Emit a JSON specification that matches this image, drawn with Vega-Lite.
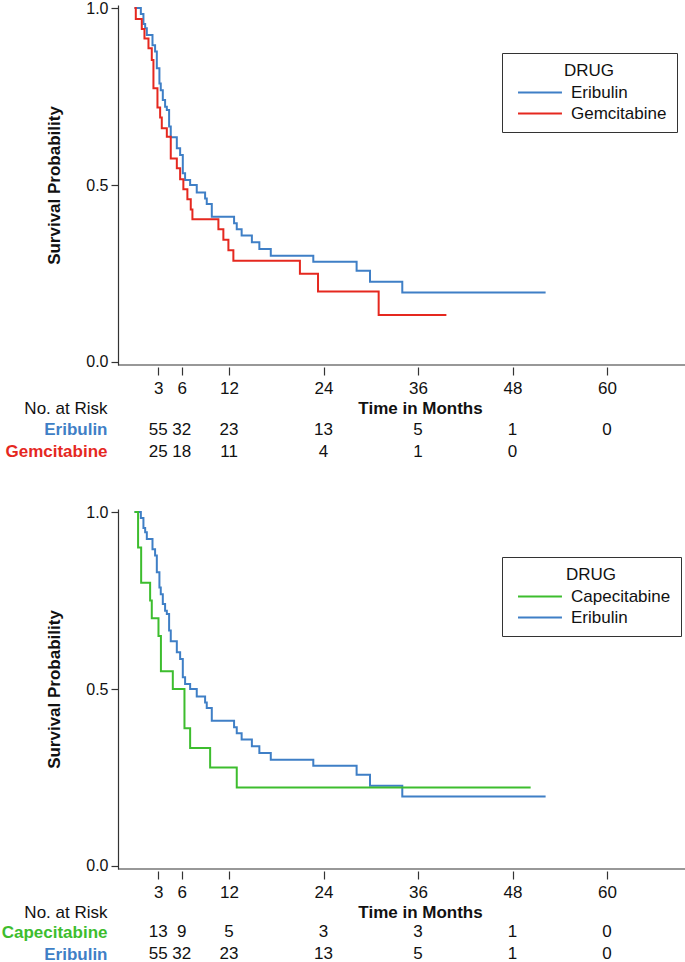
{
  "$schema": "https://vega.github.io/schema/vega-lite/v6.json",
  "padding": {"left": 1, "top": 0, "right": 0, "bottom": 0},
  "bounds": "flush",
  "spacing": 40,
  "config": {
    "font": "Liberation Sans",
    "view": {"stroke": null},
    "axis": {"grid": false, "domainColor": "#333", "tickColor": "#333", "labelColor": "#111", "titleColor": "#111", "domainWidth": 1.2, "tickWidth": 1.2},
    "legend": {"labelColor": "#111", "titleColor": "#111"}
  },
  "datasets": {
    "km": [
      {"drug": "Eribulin", "t": 0, "s": 1.0},
      {"drug": "Eribulin", "t": 0.8, "s": 0.983},
      {"drug": "Eribulin", "t": 1.13, "s": 0.955},
      {"drug": "Eribulin", "t": 1.35, "s": 0.943},
      {"drug": "Eribulin", "t": 1.56, "s": 0.924},
      {"drug": "Eribulin", "t": 2.28, "s": 0.895},
      {"drug": "Eribulin", "t": 2.61, "s": 0.877},
      {"drug": "Eribulin", "t": 2.83, "s": 0.83},
      {"drug": "Eribulin", "t": 3.16, "s": 0.787},
      {"drug": "Eribulin", "t": 3.33, "s": 0.768},
      {"drug": "Eribulin", "t": 3.59, "s": 0.74},
      {"drug": "Eribulin", "t": 3.88, "s": 0.721},
      {"drug": "Eribulin", "t": 4.1, "s": 0.712},
      {"drug": "Eribulin", "t": 4.39, "s": 0.665},
      {"drug": "Eribulin", "t": 4.6, "s": 0.635},
      {"drug": "Eribulin", "t": 5.37, "s": 0.604},
      {"drug": "Eribulin", "t": 5.79, "s": 0.585},
      {"drug": "Eribulin", "t": 6.13, "s": 0.533},
      {"drug": "Eribulin", "t": 6.42, "s": 0.514},
      {"drug": "Eribulin", "t": 7.06, "s": 0.5},
      {"drug": "Eribulin", "t": 7.9, "s": 0.479},
      {"drug": "Eribulin", "t": 8.96, "s": 0.462},
      {"drug": "Eribulin", "t": 9.17, "s": 0.446},
      {"drug": "Eribulin", "t": 9.81, "s": 0.41},
      {"drug": "Eribulin", "t": 12.64, "s": 0.392},
      {"drug": "Eribulin", "t": 12.98, "s": 0.375},
      {"drug": "Eribulin", "t": 13.6, "s": 0.357},
      {"drug": "Eribulin", "t": 14.9, "s": 0.338},
      {"drug": "Eribulin", "t": 15.85, "s": 0.319},
      {"drug": "Eribulin", "t": 17.3, "s": 0.3},
      {"drug": "Eribulin", "t": 22.7, "s": 0.283},
      {"drug": "Eribulin", "t": 28.2, "s": 0.258},
      {"drug": "Eribulin", "t": 29.9, "s": 0.227},
      {"drug": "Eribulin", "t": 34.0, "s": 0.196},
      {"drug": "Eribulin", "t": 52.2, "s": 0.196},
      {"drug": "Gemcitabine", "t": 0, "s": 1.0},
      {"drug": "Gemcitabine", "t": 0.16, "s": 0.969},
      {"drug": "Gemcitabine", "t": 0.92, "s": 0.941},
      {"drug": "Gemcitabine", "t": 1.26, "s": 0.914},
      {"drug": "Gemcitabine", "t": 1.77, "s": 0.886},
      {"drug": "Gemcitabine", "t": 2.19, "s": 0.853},
      {"drug": "Gemcitabine", "t": 2.4, "s": 0.773},
      {"drug": "Gemcitabine", "t": 2.91, "s": 0.719},
      {"drug": "Gemcitabine", "t": 3.25, "s": 0.691},
      {"drug": "Gemcitabine", "t": 3.46, "s": 0.66},
      {"drug": "Gemcitabine", "t": 4.1, "s": 0.636},
      {"drug": "Gemcitabine", "t": 4.6, "s": 0.575},
      {"drug": "Gemcitabine", "t": 5.37, "s": 0.547},
      {"drug": "Gemcitabine", "t": 5.79, "s": 0.516},
      {"drug": "Gemcitabine", "t": 6.2, "s": 0.488},
      {"drug": "Gemcitabine", "t": 6.71, "s": 0.46},
      {"drug": "Gemcitabine", "t": 7.14, "s": 0.431},
      {"drug": "Gemcitabine", "t": 7.35, "s": 0.403},
      {"drug": "Gemcitabine", "t": 10.65, "s": 0.375},
      {"drug": "Gemcitabine", "t": 11.28, "s": 0.345},
      {"drug": "Gemcitabine", "t": 11.92, "s": 0.316},
      {"drug": "Gemcitabine", "t": 12.55, "s": 0.286},
      {"drug": "Gemcitabine", "t": 21.0, "s": 0.249},
      {"drug": "Gemcitabine", "t": 23.3, "s": 0.199},
      {"drug": "Gemcitabine", "t": 31.0, "s": 0.133},
      {"drug": "Gemcitabine", "t": 39.6, "s": 0.133},
      {"drug": "Capecitabine", "t": 0, "s": 1.0},
      {"drug": "Capecitabine", "t": 0.45, "s": 0.9},
      {"drug": "Capecitabine", "t": 0.84, "s": 0.8},
      {"drug": "Capecitabine", "t": 1.98, "s": 0.75},
      {"drug": "Capecitabine", "t": 2.19, "s": 0.7},
      {"drug": "Capecitabine", "t": 3.04, "s": 0.65},
      {"drug": "Capecitabine", "t": 3.35, "s": 0.55},
      {"drug": "Capecitabine", "t": 4.86, "s": 0.5},
      {"drug": "Capecitabine", "t": 6.34, "s": 0.389},
      {"drug": "Capecitabine", "t": 7.06, "s": 0.333},
      {"drug": "Capecitabine", "t": 9.6, "s": 0.278},
      {"drug": "Capecitabine", "t": 12.98, "s": 0.222},
      {"drug": "Capecitabine", "t": 50.3, "s": 0.222}
    ],
    "risk": [
      {"drug": "Eribulin", "t": 3, "n": 55},
      {"drug": "Eribulin", "t": 6, "n": 32},
      {"drug": "Eribulin", "t": 12, "n": 23},
      {"drug": "Eribulin", "t": 24, "n": 13},
      {"drug": "Eribulin", "t": 36, "n": 5},
      {"drug": "Eribulin", "t": 48, "n": 1},
      {"drug": "Eribulin", "t": 60, "n": 0},
      {"drug": "Gemcitabine", "t": 3, "n": 25},
      {"drug": "Gemcitabine", "t": 6, "n": 18},
      {"drug": "Gemcitabine", "t": 12, "n": 11},
      {"drug": "Gemcitabine", "t": 24, "n": 4},
      {"drug": "Gemcitabine", "t": 36, "n": 1},
      {"drug": "Gemcitabine", "t": 48, "n": 0},
      {"drug": "Capecitabine", "t": 3, "n": 13},
      {"drug": "Capecitabine", "t": 6, "n": 9},
      {"drug": "Capecitabine", "t": 12, "n": 5},
      {"drug": "Capecitabine", "t": 24, "n": 3},
      {"drug": "Capecitabine", "t": 36, "n": 3},
      {"drug": "Capecitabine", "t": 48, "n": 1},
      {"drug": "Capecitabine", "t": 60, "n": 0}
    ]
  },
  "resolve": {"scale": {"x": "independent", "y": "independent", "color": "independent"}},
  "vconcat": [
    {
      "width": 567,
      "height": 360,
      "layer": [
        {
          "data": {"values": [{}]},
          "mark": {"type": "rule", "color": "#333", "strokeWidth": 1.2},
          "encoding": {"y": {"datum": -0.0085, "type": "quantitative"}}
        },
        {
          "data": {"name": "km"},
          "transform": [{"filter": {"field": "drug", "oneOf": ["Eribulin", "Gemcitabine"]}}],
          "mark": {"type": "line", "interpolate": "step-after", "strokeWidth": 2},
          "encoding": {
            "x": {"field": "t", "type": "quantitative",
              "scale": {"domain": [-2.1, 69.9], "nice": false, "zero": false},
              "axis": {"values": [3, 6, 12, 24, 36, 48, 60], "title": null, "domain": false, "offset": 2, "tickSize": 8, "labelPadding": 5, "labelFontSize": 17, "labelFlush": false, "labelOverlap": false}},
            "y": {"field": "s", "type": "quantitative",
              "scale": {"domain": [-0.0085, 1.0085], "nice": false, "zero": false},
              "axis": {"values": [0, 0.5, 1], "format": ".1f", "title": "Survival Probability", "titleFontSize": 17, "titleFontWeight": "bold", "titleX": -64, "titleY": 180, "titleBaseline": "middle", "labelFontSize": 16, "tickSize": 7, "labelPadding": 3}},
            "color": {"field": "drug", "type": "nominal",
              "scale": {"domain": ["Eribulin", "Gemcitabine"], "range": ["#3f7fc6", "#e5281f"]},
              "legend": {"orient": "none", "legendX": 384, "legendY": 48, "title": "DRUG", "titleFontWeight": "normal", "titleFontSize": 17, "titleAnchor": "middle", "titlePadding": 3, "labelFontSize": 17, "strokeColor": "#333", "fillColor": "white", "padding": 10, "symbolType": "M-0.41,0H4.76", "symbolSize": 289, "symbolStrokeWidth": 2, "labelOffset": 40, "rowPadding": 3}}
          }
        }
      ]
    },
    {
      "width": 567,
      "height": 64,
      "data": {"name": "risk"},
      "transform": [{"filter": {"field": "drug", "oneOf": ["Eribulin", "Gemcitabine"]}}],
      "mark": {"type": "text", "fontSize": 17, "color": "#111"},
      "encoding": {
        "x": {"field": "t", "type": "quantitative",
          "scale": {"domain": [-2.1, 69.9], "nice": false, "zero": false},
          "axis": {"orient": "top", "title": "Time in Months", "labels": false, "ticks": false, "domain": false, "titleX": 302, "titleY": 3, "titleBaseline": "middle", "titleFontSize": 17, "titleFontWeight": "bold"}},
        "y": {"field": "drug", "type": "nominal", "sort": ["Eribulin", "Gemcitabine"],
          "scale": {"type": "point", "padding": 0.9545, "align": 0.595},
          "axis": {"title": "No. at Risk", "titleAngle": 0, "titleAlign": "right", "titleBaseline": "middle", "titleX": -11, "titleY": 3, "titleFontWeight": "normal", "titleFontSize": 17, "labelFontSize": 17, "labelFontWeight": "bold",
            "labelColor": {"condition": {"test": "datum.value === 'Eribulin'", "value": "#3f7fc6"}, "value": "#e5281f"},
            "ticks": false, "tickSize": 0, "domain": false, "labelPadding": 11}},
        "text": {"field": "n", "type": "quantitative"}
      }
    },
    {
      "width": 567,
      "height": 360,
      "layer": [
        {
          "data": {"values": [{}]},
          "mark": {"type": "rule", "color": "#333", "strokeWidth": 1.2},
          "encoding": {"y": {"datum": -0.0085, "type": "quantitative"}}
        },
        {
          "data": {"name": "km"},
          "transform": [{"filter": {"field": "drug", "oneOf": ["Capecitabine", "Eribulin"]}}],
          "mark": {"type": "line", "interpolate": "step-after", "strokeWidth": 2},
          "encoding": {
            "x": {"field": "t", "type": "quantitative",
              "scale": {"domain": [-2.1, 69.9], "nice": false, "zero": false},
              "axis": {"values": [3, 6, 12, 24, 36, 48, 60], "title": null, "domain": false, "offset": 2, "tickSize": 8, "labelPadding": 5, "labelFontSize": 17, "labelFlush": false, "labelOverlap": false}},
            "y": {"field": "s", "type": "quantitative",
              "scale": {"domain": [-0.0085, 1.0085], "nice": false, "zero": false},
              "axis": {"values": [0, 0.5, 1], "format": ".1f", "title": "Survival Probability", "titleFontSize": 17, "titleFontWeight": "bold", "titleX": -64, "titleY": 180, "titleBaseline": "middle", "labelFontSize": 16, "tickSize": 7, "labelPadding": 3}},
            "color": {"field": "drug", "type": "nominal",
              "scale": {"domain": ["Capecitabine", "Eribulin"], "range": ["#3dbd2e", "#3f7fc6"]},
              "legend": {"orient": "none", "legendX": 384, "legendY": 48, "title": "DRUG", "titleFontWeight": "normal", "titleFontSize": 17, "titleAnchor": "middle", "titlePadding": 3, "labelFontSize": 17, "strokeColor": "#333", "fillColor": "white", "padding": 10, "symbolType": "M-0.41,0H4.76", "symbolSize": 289, "symbolStrokeWidth": 2, "labelOffset": 40, "rowPadding": 3}}
          }
        }
      ]
    },
    {
      "width": 567,
      "height": 53,
      "data": {"name": "risk"},
      "transform": [{"filter": {"field": "drug", "oneOf": ["Capecitabine", "Eribulin"]}}],
      "mark": {"type": "text", "fontSize": 17, "color": "#111"},
      "encoding": {
        "x": {"field": "t", "type": "quantitative",
          "scale": {"domain": [-2.1, 69.9], "nice": false, "zero": false},
          "axis": {"orient": "top", "title": "Time in Months", "labels": false, "ticks": false, "domain": false, "titleX": 302, "titleY": 3, "titleBaseline": "middle", "titleFontSize": 17, "titleFontWeight": "bold"}},
        "y": {"field": "drug", "type": "nominal", "sort": ["Capecitabine", "Eribulin"],
          "scale": {"type": "point", "padding": 0.7045, "align": 0.742},
          "axis": {"title": "No. at Risk", "titleAngle": 0, "titleAlign": "right", "titleBaseline": "middle", "titleX": -11, "titleY": 3, "titleFontWeight": "normal", "titleFontSize": 17, "labelFontSize": 17, "labelFontWeight": "bold",
            "labelColor": {"condition": {"test": "datum.value === 'Capecitabine'", "value": "#3dbd2e"}, "value": "#3f7fc6"},
            "ticks": false, "tickSize": 0, "domain": false, "labelPadding": 11}},
        "text": {"field": "n", "type": "quantitative"}
      }
    }
  ]
}
